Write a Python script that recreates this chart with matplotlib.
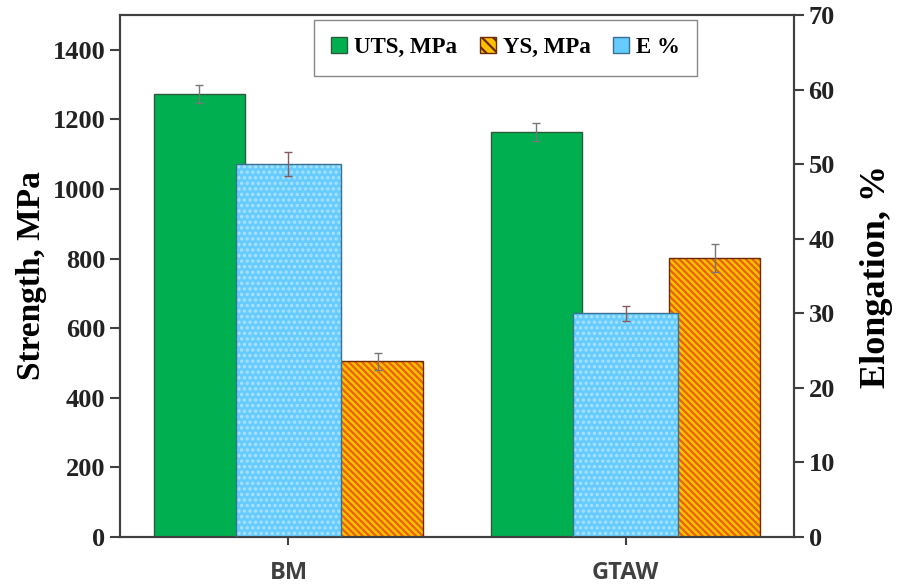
import numpy as np
import matplotlib
matplotlib.use("Agg")
import matplotlib.pyplot as plt
from matplotlib.patches import Patch

# data
groups = ["BM", "GTAW"]
uts = [1273, 1163]
uts_err = [26, 26]
ys = [505, 802]
ys_err = [25, 40]
elong = [50.0, 30.0]
elong_err = [1.6, 1.0]

serif = "Liberation Serif"
c_uts = "#00b050"
c_ys = "#ffc000"
c_e = "#66ccff"
plt.rcParams["hatch.linewidth"] = 1.6

fig = plt.figure(figsize=(8.98, 5.88), dpi=100)
ax = fig.add_axes([0.1336, 0.0867, 0.7506, 0.8878])
ax2 = ax.twinx()

x = np.arange(len(groups))
w = 0.27
we = 0.31

# primary axis: UTS and YS
ax.bar(x - 0.265, uts, w, color=c_uts, edgecolor="#2e5a3c", linewidth=1.0, zorder=2)
ax.bar(x + 0.265, ys, w, color=c_ys, edgecolor="#e8620c", linewidth=0, hatch="\\\\\\\\\\", zorder=2)
ax.bar(x + 0.265, ys, w, fill=False, edgecolor="#6a2a08", linewidth=1.0, zorder=3)
ax.errorbar(x - 0.265, uts, yerr=uts_err, fmt="none", ecolor="#777777", elinewidth=1.0, capsize=3, zorder=4)
ax.errorbar(x + 0.265, ys, yerr=ys_err, fmt="none", ecolor="#777777", elinewidth=1.0, capsize=3, zorder=4)

# secondary axis: elongation
ax2.bar(x, elong, we, color=c_e, edgecolor="#a9e2fb", linewidth=0, hatch="...", zorder=2)
ax2.bar(x, elong, we, fill=False, edgecolor="#3c6f8f", linewidth=1.0, zorder=3)
ax2.errorbar(x, elong, yerr=elong_err, fmt="none", ecolor="#8a5a5a", elinewidth=1.0, capsize=3, zorder=4)

ax.set_xlim(-0.5, 1.5)
ax.set_ylim(0, 1500)
ax2.set_ylim(0, 70)
ax.set_yticks(np.arange(0, 1401, 200))
ax2.set_yticks(np.arange(0, 71, 10))
ax.set_xticks(x)
ax.set_xticklabels(groups, fontfamily="Open Sans", fontweight="bold", fontsize=17, color="#404040")

for a in (ax, ax2):
    for s in a.spines.values():
        s.set_color("#404040")
        s.set_linewidth(1.5)
    a.tick_params(direction="out", length=7, width=1.5, color="#404040")
ax.tick_params(axis="x", length=6, pad=11)

for lab in ax.get_yticklabels() + ax2.get_yticklabels():
    lab.set_fontfamily(serif)
    lab.set_fontweight("bold")
    lab.set_fontsize(19)
    lab.set_color("#222222")

ax.set_ylabel("Strength, MPa", fontfamily=serif, fontweight="bold", fontsize=24, labelpad=4)
ax2.set_ylabel("Elongation, %", fontfamily=serif, fontweight="bold", fontsize=26, labelpad=18)

handles = [
    Patch(facecolor=c_uts, edgecolor="#2e5a3c"),
    Patch(facecolor=c_ys, edgecolor="#6a2a08", hatch="\\\\\\"),
    Patch(facecolor=c_e, edgecolor="#3c6f8f"),
]
leg = ax2.legend(handles, ["UTS, MPa", "YS, MPa", "E %"], ncol=3, loc="upper center",
                 bbox_to_anchor=(0.572, 0.99), borderaxespad=0, fancybox=False, framealpha=1,
                 edgecolor="#888888", handlelength=0.7, handleheight=0.7,
                 handletextpad=0.3, columnspacing=1.0, borderpad=0.75,
                 prop={"family": serif, "weight": "bold", "size": 16.5})
leg.get_frame().set_linewidth(1.0)

fig.savefig("out.png", dpi=100)
